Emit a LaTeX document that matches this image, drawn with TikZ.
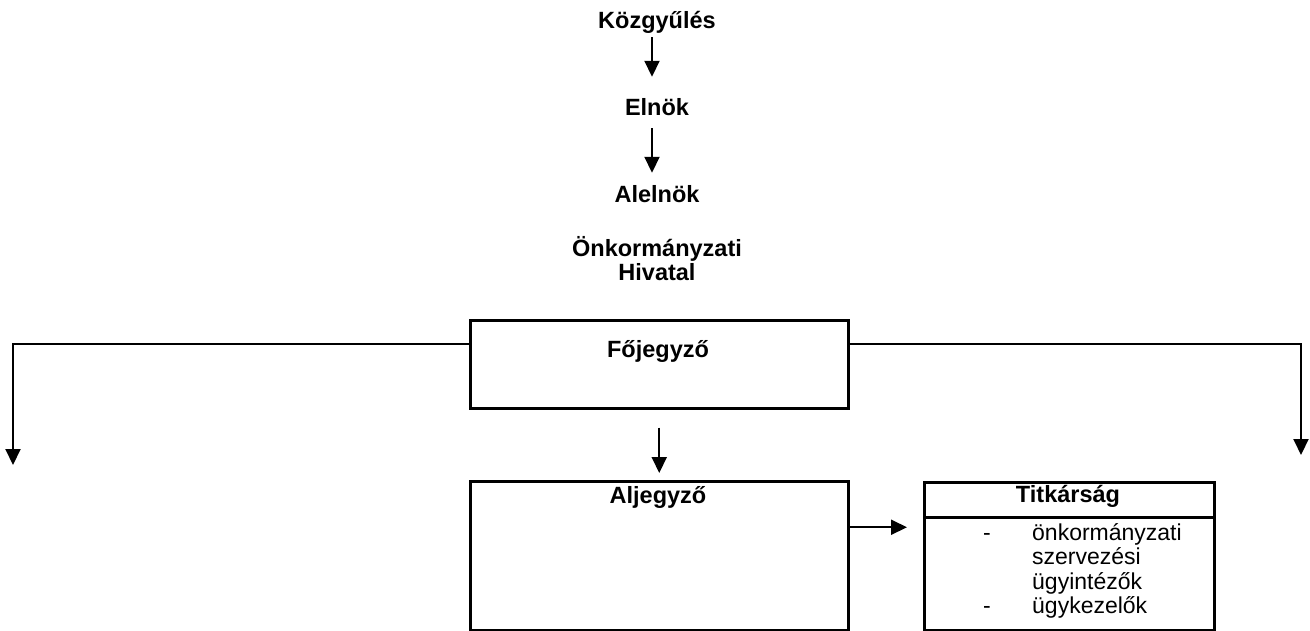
\documentclass[tikz,border=0pt]{standalone}
\usepackage{fontspec}
\setmainfont{Liberation Sans}
\usetikzlibrary{arrows.meta}
\begin{document}
\begin{tikzpicture}[x=1pt,y=-1pt,
  lbl/.style={font=\fontsize{23.5}{24}\selectfont\bfseries, inner sep=0pt, anchor=base, align=center},
  box/.style={draw, line width=2.5pt, inner sep=0pt, anchor=north west},
  arr/.style={line width=2pt, -{Triangle[length=16pt,width=15pt]}},
  lst/.style={font=\fontsize{23}{24.5}\selectfont, inner sep=0pt, anchor=base west, align=left}
]
\useasboundingbox (0,0) rectangle (1310,630);
% top labels
\node[lbl] (kozgy) at (657,28) {Közgyűlés};
\node[lbl] (elnok) at (657,115) {Elnök};
\node[lbl] (alelnok) at (657,202) {Alelnök};
\node[lbl] (hivatal) at (657,280) {Önkormányzati\\Hivatal};
% boxes
\node[box, minimum width=378pt, minimum height=88pt] (fo) at (469,319) {};
\node[lbl] (fotext) at (658,357) {Főjegyző};
\node[box, minimum width=378pt, minimum height=149pt] (al) at (469,480) {};
\node[lbl] (altext) at (658,503) {Aljegyző};
\node[box, line width=3pt, minimum width=290pt, minimum height=148pt] (tit) at (923,481) {};
\node[lbl] (tittext) at (1068,502) {Titkárság};
\draw[line width=3pt] ([yshift=-36pt]tit.north west) -- ([yshift=-36pt]tit.north east);
\node[lst] (tlist) at (983,613.5) {\makebox[49pt][l]{-}önkormányzati\\\hspace*{49pt}szervezési\\\hspace*{49pt}ügyintézők\\\makebox[49pt][l]{-}ügykezelők};
% connectors
\draw[arr] ([xshift=-5pt,yshift=-4pt]kozgy.south) -- ([xshift=-5pt,yshift=21pt]elnok.north);
\draw[arr] ([xshift=-5pt,yshift=-13pt]elnok.south) -- ([xshift=-5pt,yshift=12pt]alelnok.north);
\coordinate (leftend) at (13,465);
\coordinate (rightend) at (1301,455);
\draw[arr] ([yshift=20pt]fo.west) -| (leftend);
\draw[arr] ([yshift=20pt]fo.east) -| (rightend);
\draw[arr] ([yshift=-18pt]fo.south) -- ([yshift=7pt]al.north);
\coordinate (a2) at ([yshift=28.5pt]al.east);
\draw[arr, shorten >=16pt] (a2) -- (a2 -| tit.west);
\end{tikzpicture}
\end{document}
